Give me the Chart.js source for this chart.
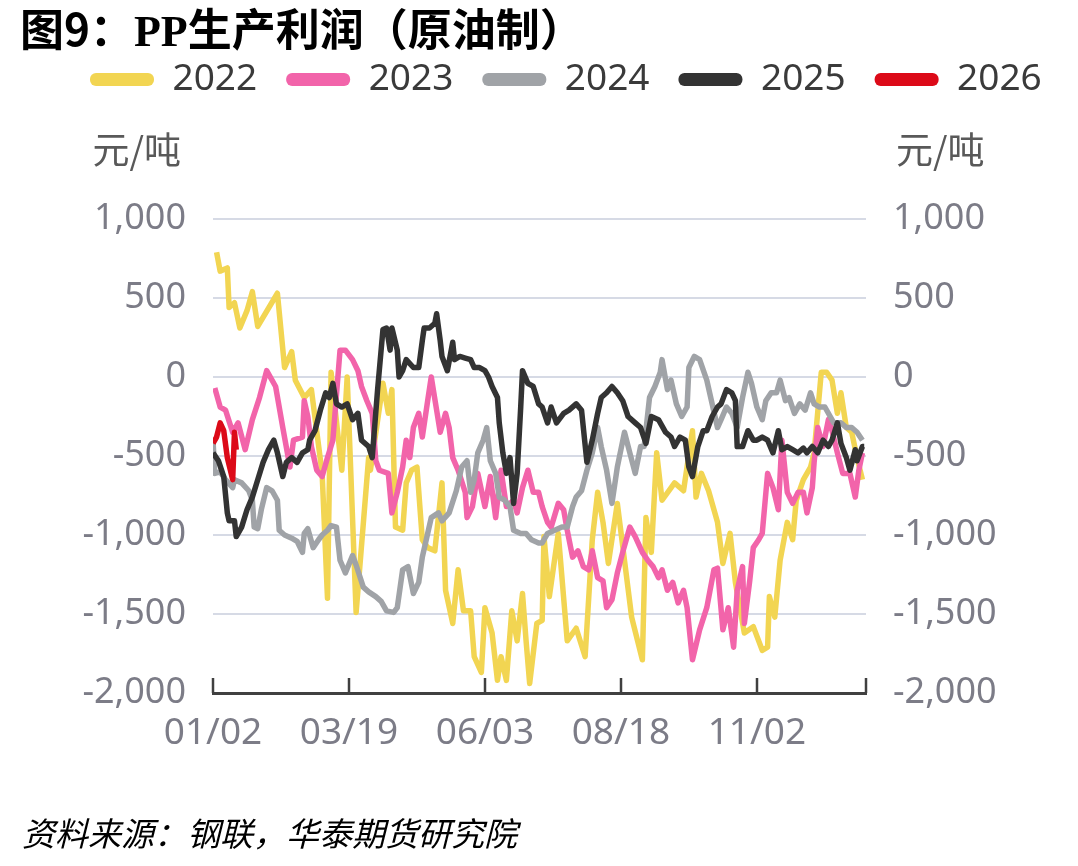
<!DOCTYPE html>
<html>
<head>
<meta charset="utf-8">
<title>PP生产利润（原油制）</title>
<script src="https://cdn.jsdelivr.net/npm/chart.js@4.4.1/dist/chart.umd.min.js"></script>
<style>
  body { margin: 0; background: #fff; }
  #wrap { position: relative; width: 1078px; height: 866px; overflow: hidden; }
  #chart { position: absolute; left: 0; top: 0; }
  #title { position: absolute; left: 20px; top: -5px; font: bold 44px "Noto Sans CJK SC", sans-serif; color: #000; white-space: nowrap; }
  #title .en { font-family: "Liberation Serif", serif; }
  #source { position: absolute; left: 22px; top: 808px; font: italic 33px "Noto Sans CJK SC", sans-serif; color: #000; white-space: nowrap; }
</style>
</head>
<body>
<div id="wrap">
  <canvas id="chart" width="1078" height="866"></canvas>
  <div id="title">图9：<span class="en">PP</span>生产利润（原油制）</div>
  <div id="source">资料来源：钢联，华泰期货研究院</div>
</div>
<script>
// x = days since 01/02
var tickDays = [0, 76, 152, 228, 304, 365];
var tickLabels = ['01/02', '03/19', '06/03', '08/18', '11/02', ''];
var years = ['2022', '2023', '2024', '2025', '2026'];
var colors = ['#F2D552', '#F264AA', '#A0A3A7', '#333333', '#DC0A18'];

var days2022 = [2,4,8,9,12,15,19,22,25,36,40,44,46,51,55,61,64,66,72,75,80,87,88,95,98,100,102,106,108,111,114,117,120,124,128,130,134,137,140,144,146,150,152,156,159,161,164,167,170,173,175,177,181,184,185,188,193,198,203,208,212,215,218,221,226,230,234,240,242,245,248,251,258,263,268,270,273,277,282,285,289,292,297,302,307,310,311,314,317,321,324,326,330,334,336,340,343,346,349,351,354,357,360,363];
var profit2022 = [790,670,690,440,470,310,420,540,320,530,60,160,-20,-130,-80,-610,-1400,30,-590,0,-1490,-510,-590,-40,-230,-80,-950,-970,-670,-590,-570,-1030,-1080,-1100,-670,-1350,-1560,-1220,-1480,-1480,-1770,-1870,-1460,-1620,-1920,-1770,-1920,-1480,-1670,-1370,-1670,-1940,-1560,-1540,-1010,-1390,-990,-1670,-1590,-1770,-1030,-730,-920,-1180,-800,-1160,-1520,-1790,-890,-1110,-480,-780,-670,-720,-340,-760,-610,-720,-920,-1180,-990,-1300,-1620,-1580,-1730,-1710,-1390,-1520,-1160,-920,-1030,-780,-650,-570,-480,30,30,-20,-230,-100,-320,-350,-510,-650];

var days2023 = [1,4,7,11,14,18,22,26,30,35,39,43,45,50,51,53,55,58,61,64,67,71,74,78,81,83,86,89,91,93,98,100,103,106,108,110,112,115,117,120,122,125,127,130,132,134,137,141,142,145,148,152,155,158,161,164,168,170,173,176,179,182,184,187,189,193,196,198,201,204,207,210,212,215,218,220,223,226,229,233,236,240,243,246,249,251,254,257,260,263,265,268,272,276,280,282,285,288,291,293,296,297,300,302,305,307,310,313,316,318,321,324,327,330,332,335,336,338,341,344,346,349,352,356,359,361,363];
var profit2023 = [-70,-190,-210,-350,-290,-460,-270,-130,40,-60,-320,-570,-400,-380,-150,-250,-440,-590,-630,-510,-400,170,170,110,40,-60,-150,-230,-530,-590,-610,-860,-730,-570,-400,-510,-320,-230,-380,-150,0,-210,-350,-230,-320,-510,-590,-730,-890,-820,-610,-820,-630,-890,-590,-820,-780,-860,-700,-590,-730,-730,-820,-920,-950,-800,-840,-970,-1140,-1100,-1200,-1220,-1100,-1270,-1290,-1460,-1410,-1240,-1110,-950,-1010,-1110,-1160,-1200,-1270,-1220,-1350,-1300,-1430,-1350,-1460,-1790,-1600,-1460,-1220,-1210,-1600,-1460,-1710,-1350,-1200,-1560,-1290,-1080,-1030,-990,-610,-700,-840,-400,-730,-800,-730,-730,-860,-700,-540,-320,-440,-270,-340,-480,-610,-610,-760,-590,-480];

var days2024 = [0,1,4,7,11,12,16,20,22,23,25,27,30,33,36,37,40,44,47,50,51,53,56,59,61,64,66,69,71,74,78,80,84,87,91,94,97,101,103,106,109,112,115,117,122,126,128,132,136,139,142,144,146,148,151,153,155,158,160,163,166,168,172,175,178,182,184,187,191,195,198,201,203,206,209,212,215,217,220,223,226,230,233,236,239,241,244,247,250,251,254,256,259,262,265,266,269,272,276,279,282,284,287,290,293,296,299,301,304,307,309,312,315,317,320,322,325,328,331,334,336,339,342,345,347,351,354,357,360,363];
var profit2024 = [-400,-610,-600,-650,-700,-650,-670,-720,-780,-950,-960,-840,-700,-720,-780,-970,-1000,-1020,-1040,-1110,-990,-960,-1080,-1030,-1000,-970,-940,-950,-1160,-1240,-1130,-1190,-1330,-1360,-1390,-1420,-1480,-1490,-1460,-1220,-1200,-1370,-1300,-1140,-890,-860,-910,-860,-720,-570,-530,-730,-650,-480,-400,-320,-530,-610,-760,-780,-820,-970,-990,-990,-1030,-1050,-1050,-990,-970,-950,-950,-820,-760,-720,-590,-480,-320,-440,-590,-800,-570,-350,-480,-610,-440,-440,-130,-60,30,110,-80,-20,-170,-250,-190,60,130,110,-20,-170,-320,-270,-190,-230,-320,-130,30,-40,-190,-270,-150,-100,-100,-20,-150,-130,-230,-170,-210,-100,-170,-190,-190,-250,-290,-290,-320,-320,-350,-400];

var days2025 = [0,3,6,8,9,12,13,16,19,22,25,28,31,34,36,39,41,44,47,50,53,54,57,60,63,65,67,69,72,75,78,81,83,87,89,92,95,97,99,100,103,104,106,108,112,115,117,118,121,124,125,127,128,131,134,135,138,141,144,146,149,152,154,156,159,160,162,164,166,168,170,172,173,176,179,182,184,187,189,192,196,199,203,206,209,212,215,217,220,223,226,229,232,236,239,242,245,249,253,256,258,261,264,266,268,271,274,276,279,282,284,287,290,292,293,296,299,302,304,307,310,313,316,318,321,324,327,330,332,335,338,341,344,346,349,351,354,356,359,360,363,364];
var profit2025 = [-480,-530,-630,-860,-910,-910,-1010,-950,-840,-760,-650,-540,-460,-400,-480,-630,-540,-510,-540,-480,-460,-400,-340,-210,-100,-130,-40,-170,-190,-170,-270,-230,-400,-440,-510,-80,300,310,170,310,170,0,40,110,60,60,230,310,310,340,400,230,130,40,220,110,130,120,110,60,60,40,0,-60,-130,-290,-480,-610,-510,-800,-610,-190,40,-40,-60,-170,-190,-290,-190,-290,-230,-210,-170,-210,-540,-400,-230,-130,-100,-60,-100,-150,-250,-290,-320,-420,-250,-270,-350,-380,-440,-380,-400,-570,-630,-440,-340,-340,-250,-190,-170,-80,-100,-150,-440,-440,-340,-400,-400,-380,-400,-480,-340,-460,-440,-460,-480,-450,-480,-440,-480,-400,-440,-400,-290,-420,-510,-590,-460,-530,-440,-440];

var days2026 = [0,2,4,6,8,11,12,13];
var profit2026 = [-420,-380,-290,-340,-510,-650,-350,-460];

var allDays = [days2022, days2023, days2024, days2025, days2026];
var allProfit = [profit2022, profit2023, profit2024, profit2025, profit2026];

Chart.defaults.font.family = '"Noto Sans", "Noto Sans CJK SC", sans-serif';

var decorations = {
    id: 'decorations',
    afterDraw: function (chart) {
        var ctx = chart.ctx, area = chart.chartArea, sc = chart.scales;
        ctx.save();
        // short tick marks pointing up from the date axis
        ctx.strokeStyle = '#404040';
        ctx.lineWidth = 2.5;
        tickDays.forEach(function (d) {
            var x = Math.round(sc.x.getPixelForValue(d));
            ctx.beginPath();
            ctx.moveTo(x, area.bottom);
            ctx.lineTo(x, area.bottom - 15);
            ctx.stroke();
        });
        // unit labels above both value axes
        ctx.font = '37px "Noto Sans CJK SC"';
        ctx.fillStyle = '#595959';
        ctx.textBaseline = 'middle';
        ctx.textAlign = 'right';
        ctx.fillText('元/吨', sc.y.right - 32, area.top - 69);
        ctx.textAlign = 'left';
        ctx.fillText('元/吨', sc.y2.left + 30, area.top - 69);
        ctx.restore();
    }
};

var valueTicks = {
    stepSize: 500,
    padding: 27,
    color: '#7c7c87',
    font: { size: 36 },
    callback: function (v) { return v.toLocaleString('en-US'); }
};

var chart = new Chart(document.getElementById('chart'), {
    type: 'line',
    data: {
        datasets: years.map(function (y, i) {
            return {
                label: y,
                data: allDays[i].map(function (d, k) { return { x: d, y: allProfit[i][k] }; }),
                borderColor: colors[i],
                backgroundColor: colors[i],
                borderWidth: 5.5,
                borderJoinStyle: 'round',
                pointRadius: 0,
                fill: false,
                tension: 0,
                order: years.length - i
            };
        })
    },
    options: {
        responsive: false,
        devicePixelRatio: 1,
        animation: false,
        layout: { padding: { top: 32, left: 61, right: 0, bottom: 0 } },
        plugins: {
            tooltip: { enabled: false },
            legend: {
                align: 'start',
                labels: {
                    boxWidth: 64,
                    boxHeight: 13,
                    useBorderRadius: true,
                    borderRadius: 6,
                    padding: 29,
                    color: '#3a3a3a',
                    font: { size: 37 },
                    sort: function (a, b) { return a.datasetIndex - b.datasetIndex; },
                    generateLabels: function (c) {
                        return Chart.defaults.plugins.legend.labels.generateLabels(c).map(function (it) {
                            it.lineWidth = 0;
                            return it;
                        });
                    }
                }
            },
            subtitle: {
                display: true,
                text: '',
                weight: 500,
                font: { size: 10 },
                padding: { top: 99, bottom: 0 }
            }
        },
        scales: {
            x: {
                type: 'linear',
                min: 0,
                max: 365,
                afterBuildTicks: function (s) { s.ticks = tickDays.map(function (v) { return { value: v }; }); },
                afterFit: function (s) { s.height = 173; },
                grid: { display: true, drawOnChartArea: false, drawTicks: false },
                border: { display: true, color: '#404040', width: 3 },
                ticks: {
                    autoSkip: false,
                    maxRotation: 0,
                    padding: 18,
                    color: '#7c7c87',
                    font: { size: 37 },
                    callback: function (v, i) { return tickLabels[i]; }
                }
            },
            y: {
                position: 'left',
                min: -2000,
                max: 1000,
                afterFit: function (s) { s.width = 152; },
                grid: { color: '#d6dae5', lineWidth: 2, drawTicks: false },
                border: { display: false },
                ticks: valueTicks
            },
            y2: {
                position: 'right',
                min: -2000,
                max: 1000,
                afterFit: function (s) { s.width = 212; },
                grid: { display: false, drawTicks: false },
                border: { display: false },
                ticks: valueTicks
            }
        }
    },
    plugins: [decorations]
});
</script>
</body>
</html>
